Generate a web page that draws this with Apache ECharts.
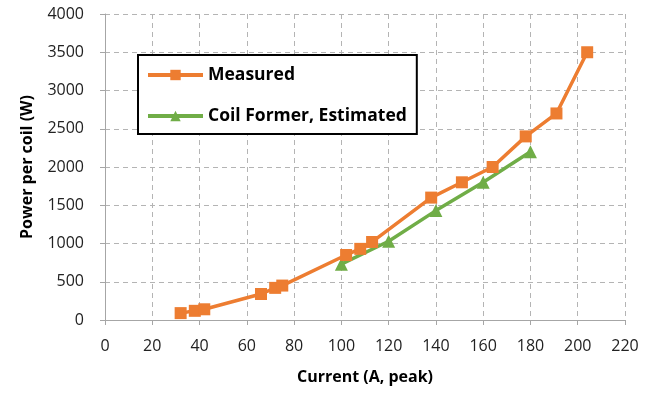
<!DOCTYPE html>
<html>
<head>
<meta charset="utf-8">
<script src="https://cdn.jsdelivr.net/npm/echarts@6/dist/echarts.min.js"></script>
<style>
  html, body { margin: 0; padding: 0; background: #fff; }
  #chart { width: 661px; height: 393px; }
</style>
</head>
<body>
<div id="chart"></div>
<script>
  // measured points (current A peak, power W)
  const measuredX = [32, 38, 42, 66, 72, 75, 102, 108, 113, 138, 151, 164, 178, 191, 204];
  const measuredY = [90, 120, 140, 340, 420, 450, 850, 930, 1020, 1600, 1800, 2000, 2400, 2700, 3500];
  // coil former estimate
  const estimatedX = [100, 120, 140, 160, 180];
  const estimatedY = [730, 1030, 1430, 1800, 2200];

  const pairs = (xs, ys) => xs.map((x, i) => [x, ys[i]]);

  const chart = echarts.init(document.getElementById('chart'));
  const font = 'Open Sans';
  const option = {
    animation: false,
    grid: { left: 105, right: 36, top: 14, bottom: 73 },
    legend: {
      orient: 'vertical',
      left: 138, top: 55,
      padding: [11, 10, 9, 8],
      itemGap: 23,
      itemWidth: 55, itemHeight: 13,
      borderColor: '#000', borderWidth: 2,
      backgroundColor: '#fff',
      lineStyle: { width: 4 },
      textStyle: { fontFamily: font, fontSize: 17.5, fontWeight: 'bold', color: '#000' },
      data: ['Measured', 'Coil Former, Estimated']
    },
    xAxis: {
      type: 'value', min: 0, max: 220, interval: 20,
      name: 'Current (A, peak)', nameLocation: 'middle', nameGap: 49,
      nameTextStyle: { fontFamily: font, fontSize: 16, fontWeight: 'bold', color: '#000' },
      axisLine: { lineStyle: { color: '#a6a6a6', width: 1 } },
      axisTick: { show: true, length: 5, lineStyle: { color: '#a6a6a6' } },
      axisLabel: { fontFamily: font, fontSize: 16, color: '#222', margin: 18 },
      splitLine: { show: true, lineStyle: { color: '#b4b4b4', type: [5, 4], width: 1 } }
    },
    yAxis: {
      type: 'value', min: 0, max: 4000, interval: 500,
      name: 'Power per coil (W)', nameLocation: 'middle', nameGap: 70,
      nameTextStyle: { fontFamily: font, fontSize: 16, fontWeight: 'bold', color: '#000' },
      axisLine: { show: true, lineStyle: { color: '#a6a6a6', width: 1 } },
      axisTick: { show: true, length: 5, lineStyle: { color: '#a6a6a6' } },
      axisLabel: { fontFamily: font, fontSize: 16, color: '#222', margin: 21, formatter: v => String(v) },
      splitLine: { show: true, lineStyle: { color: '#b4b4b4', type: [5, 4], width: 1 } }
    },
    series: [
      {
        name: 'Measured', type: 'line',
        data: pairs(measuredX, measuredY),
        symbol: 'rect', symbolSize: 12,
        lineStyle: { color: '#ED7D31', width: 3.5 },
        itemStyle: { color: '#ED7D31' },
        z: 3
      },
      {
        name: 'Coil Former, Estimated', type: 'line',
        data: pairs(estimatedX, estimatedY),
        symbol: 'triangle', symbolSize: 13,
        lineStyle: { color: '#70AD47', width: 3.5 },
        itemStyle: { color: '#70AD47' },
        z: 2
      }
    ]
  };
  chart.setOption(option);
</script>
</body>
</html>
